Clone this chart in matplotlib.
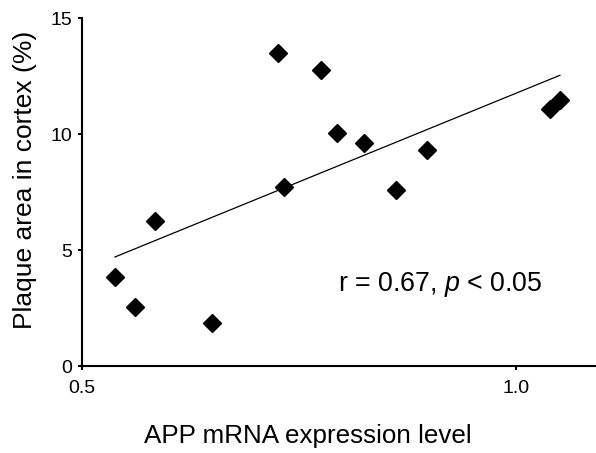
import numpy as np
import matplotlib
matplotlib.use("Agg")
import matplotlib.pyplot as plt

plt.rcParams['font.family'] = ['Liberation Sans', 'DejaVu Sans']
plt.rcParams['mathtext.fontset'] = 'custom'
plt.rcParams['mathtext.rm'] = 'Liberation Sans'
plt.rcParams['mathtext.it'] = 'Liberation Sans:italic'

# Data
app_mrna = [0.538, 0.561, 0.584, 0.650, 0.726, 0.732, 0.775, 0.793, 0.824, 0.861, 0.897, 1.039, 1.050]
plaque_area = [3.82, 2.56, 6.25, 1.87, 13.48, 7.70, 12.78, 10.03, 9.62, 7.59, 9.31, 11.10, 11.47]
x_ticks = [0.5, 1.0]
x_tick_labels = ['0.5', '1.0']
y_ticks = [0, 5, 10, 15]
annotation = 'r = 0.67, $p$ < 0.05'

fig = plt.figure(figsize=(5.96, 4.53), dpi=100)
ax = fig.add_axes([0.1376, 0.192, 0.8624, 0.768])

x = np.array(app_mrna)
y = np.array(plaque_area)
slope, intercept = np.polyfit(x, y, 1)
xl = np.array([x.min(), x.max()])
ax.plot(xl, slope * xl + intercept, color='black', lw=0.9, zorder=2)
ax.plot(x, y, linestyle='none', marker='D', markersize=9.5, color='black', zorder=3)

ax.set_xlim(0.5, 1.0915)
ax.set_ylim(0, 15)
ax.set_xticks(x_ticks)
ax.set_xticklabels(x_tick_labels)
ax.set_yticks(y_ticks)

for s in ['top', 'right']:
    ax.spines[s].set_visible(False)
for s in ['left', 'bottom']:
    ax.spines[s].set_linewidth(1.5)
    ax.spines[s].set_color('black')
    ax.spines[s].set_clip_on(False)

ax.tick_params(axis='both', direction='out', length=3, width=1.5, labelsize=14, colors='black')
ax.tick_params(axis='x', pad=7)
ax.tick_params(axis='y', pad=4)

ax.set_xlabel('APP mRNA expression level', fontsize=18.7, labelpad=20)
ax.xaxis.set_label_coords(0.44, -0.2, transform=ax.transAxes)
ax.xaxis.label.set_va('center')
ax.set_ylabel('Plaque area in cortex (%)', fontsize=19, labelpad=10)
ax.yaxis.set_label_coords(-0.111, 0.534, transform=ax.transAxes)
ax.yaxis.label.set_va('center')

ax.text(0.7946, 3.5, annotation, fontsize=19.3, ha='left', va='center')

fig.savefig('out.png', dpi=100)
